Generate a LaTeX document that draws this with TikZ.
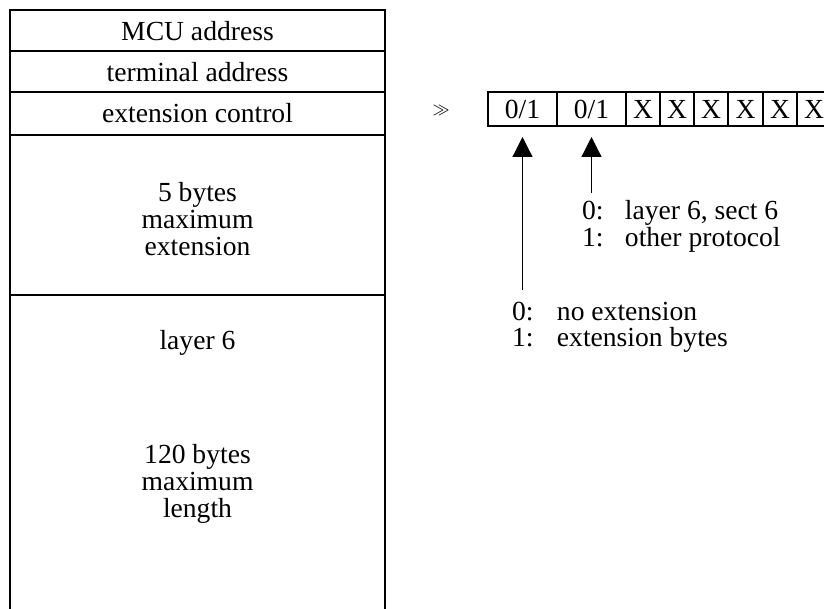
\documentclass[tikz,border=0pt]{standalone}
\usepackage{fontspec}
\setmainfont{Liberation Serif}
\usetikzlibrary{arrows.meta}
\begin{document}
\begin{tikzpicture}[x=0.5pt,y=-0.5pt,
  every node/.style={inner sep=0pt, outer sep=0pt},
  lbl/.style={font=\fontsize{13.8pt}{13.5pt}\selectfont, align=center},
  cell/.style={draw, line width=0.7pt, minimum height=17pt, font=\fontsize{13.8pt}{13.5pt}\selectfont},
  wide/.style={cell, minimum width=34.5pt},
  narrow/.style={cell, minimum width=17pt},
  frame/.style={line width=0.7pt},
  ptr/.style={line width=0.6pt, -{Triangle[width=10pt,length=10pt]}},
  leg/.style={anchor=base west}
]
\useasboundingbox (0,0) rectangle (824,609);
% left frame
\draw[frame] (10,609) -- (10,10) -- (385,10) -- (385,609);
\draw[frame] (10,51) -- (385,51);
\draw[frame] (10,92) -- (385,92);
\draw[frame] (10,135) -- (385,135);
\draw[frame] (10,295) -- (385,295);
\node[lbl] (mcu) at (197.5,31) {MCU address};
\node[lbl] (term) at (197.5,72) {terminal address};
\node[lbl] (ext) at (197.5,113) {extension control};
\node[lbl] (five) at (197.5,219) {5 bytes\\maximum\\extension};
\node[lbl] (l6) at (197.5,343) {layer 6};
\node[lbl] (len) at (197.5,484) {120 bytes\\maximum\\length};
% symbol
\node[font=\fontsize{8pt}{9pt}\selectfont] (gg) at (441,111) {$\gg$};
% byte cells
\node[wide] (c1) at (522.5,109) {0/1};
\node[wide] (c2) at (591.5,109) {0/1};
\node[narrow] (c3) at (643,109) {X};
\node[narrow] (c4) at (677,109) {X};
\node[narrow] (c5) at (711,109) {X};
\node[narrow] (c6) at (745.5,109) {X};
\node[narrow] (c7) at (780,109) {X};
\node[narrow] (c8) at (814,109) {X};
% arrows
\coordinate (a1) at (522.5,290);
\coordinate (a2) at (591.5,193);
\draw[ptr, shorten >=5.5pt] (a1) -- (c1.south);
\draw[ptr, shorten >=5.5pt] (a2) -- (c2.south);
% legends
\node[leg] (leg2) at (582,220) {\fontsize{13.8pt}{11.5pt}\selectfont
  \begin{tabular}[t]{@{}l@{\hspace{10.75pt}}l@{}}0: & layer 6, sect 6\\ 1: & other protocol\end{tabular}};
\node[leg] (leg1) at (512,320) {\fontsize{13.8pt}{12.5pt}\selectfont
  \begin{tabular}[t]{@{}l@{\hspace{11.75pt}}l@{}}0: & no extension\\ 1: & extension bytes\end{tabular}};
\end{tikzpicture}
\end{document}
